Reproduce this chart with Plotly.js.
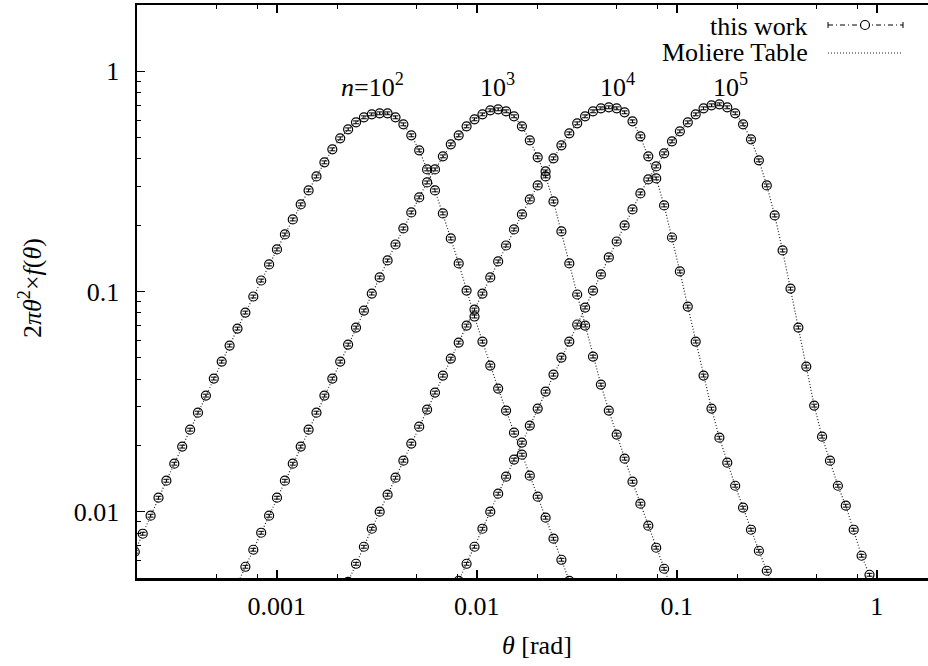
<!DOCTYPE html>
<html>
<head>
<meta charset="utf-8">
<script src="https://cdn.plot.ly/plotly-3.0.1.min.js"></script>
<style>
html,body{margin:0;padding:0;overflow:hidden;background:#fff;}
#chart{width:960px;height:666px;}
</style>
</head>
<body>
<div id="chart"></div>
<script>
// shared angle grid (rad)
const theta = [1.950e-4, 2.136e-4, 2.339e-4, 2.562e-4, 2.805e-4, 3.073e-4, 3.365e-4, 3.686e-4, 4.036e-4, 4.421e-4, 4.842e-4, 5.303e-4, 5.808e-4, 6.361e-4, 6.966e-4, 7.630e-4, 8.356e-4, 9.152e-4,
  1.002e-3, 1.098e-3, 1.202e-3, 1.317e-3, 1.442e-3, 1.579e-3, 1.730e-3, 1.895e-3, 2.075e-3, 2.273e-3, 2.489e-3, 2.726e-3, 2.985e-3, 3.269e-3, 3.581e-3, 3.922e-3, 4.295e-3, 4.704e-3, 5.152e-3, 5.643e-3, 6.180e-3, 6.768e-3, 7.413e-3, 8.119e-3, 8.892e-3, 9.739e-3,
  1.067e-2, 1.168e-2, 1.279e-2, 1.401e-2, 1.535e-2, 1.681e-2, 1.841e-2, 2.016e-2, 2.208e-2, 2.418e-2, 2.649e-2, 2.901e-2, 3.177e-2, 3.480e-2, 3.811e-2, 4.174e-2, 4.571e-2, 5.006e-2, 5.483e-2, 6.005e-2, 6.577e-2, 7.203e-2, 7.889e-2, 8.640e-2, 9.462e-2,
  0.1036, 0.1135, 0.1243, 0.1361, 0.1491, 0.1633, 0.1788, 0.1959, 0.2145, 0.2350, 0.2573, 0.2818, 0.3087, 0.3381, 0.3703, 0.4055, 0.4441, 0.4864, 0.5327, 0.5834, 0.6390, 0.6998, 0.7665, 0.8395, 0.9194, 1.007];

// first grid index of each series
const start1e2 = 0, start1e3 = 13, start1e4 = 27, start1e5 = 41;

const y1e2 = [0.00658, 0.007943, 0.00959, 0.01158, 0.01383, 0.01652, 0.01975, 0.02359, 0.02818, 0.03367, 0.04023, 0.04806, 0.05683, 0.06789, 0.08026, 0.0949, 0.1122, 0.1327, 0.1552, 0.1816, 0.2125, 0.2486, 0.2878, 0.3332, 0.3859, 0.4421, 0.4961, 0.545, 0.5864, 0.618, 0.6376, 0.6444, 0.6444, 0.618, 0.5743, 0.5119, 0.4374, 0.3585, 0.2878, 0.2262, 0.1741, 0.1341, 0.101, 0.07698, 0.05926, 0.04609, 0.03623, 0.02878, 0.02286, 0.01816, 0.01457, 0.0117, 0.009391, 0.00754, 0.00605, 0.004857];

const y1e3 = [0.004707, 0.005623, 0.006719, 0.008027, 0.00959, 0.01158, 0.01383, 0.01652, 0.01975, 0.02359, 0.02818, 0.03367, 0.04023, 0.04806, 0.05743, 0.0686, 0.08196, 0.0979, 0.1158, 0.1384, 0.1635, 0.1934, 0.2286, 0.2675, 0.3129, 0.3585, 0.4109, 0.4659, 0.5119, 0.5624, 0.6052, 0.6376, 0.665, 0.672, 0.658, 0.6245, 0.5624, 0.4858, 0.4067, 0.3332, 0.2565, 0.1874, 0.1341, 0.09691, 0.07006, 0.05064, 0.03778, 0.02878, 0.02239, 0.01742, 0.01369, 0.01088, 0.008637, 0.006862, 0.005507, 0.004421];

const y1e4 = [0.004806, 0.005802, 0.006933, 0.00837, 0.01, 0.01195, 0.01427, 0.01705, 0.02038, 0.02434, 0.02908, 0.03474, 0.04151, 0.04959, 0.05864, 0.07006, 0.08282, 0.0979, 0.1158, 0.137, 0.1618, 0.1914, 0.2238, 0.262, 0.3032, 0.3511, 0.4025, 0.461, 0.5227, 0.5803, 0.6245, 0.658, 0.6791, 0.6862, 0.6791, 0.6512, 0.5926, 0.5066, 0.4109, 0.3263, 0.246, 0.1759, 0.1233, 0.08546, 0.05926, 0.04151, 0.02939, 0.02169, 0.01669, 0.01312, 0.01043, 0.008283, 0.006649, 0.005393, 0.004375];

const y1e5 = [0.004857, 0.005802, 0.006933, 0.00837, 0.01, 0.01208, 0.01442, 0.01724, 0.0206, 0.0246, 0.02939, 0.03511, 0.04195, 0.05011, 0.05926, 0.0708, 0.08457, 0.101, 0.1195, 0.1428, 0.1687, 0.1996, 0.2359, 0.2789, 0.3229, 0.3699, 0.424, 0.4807, 0.5337, 0.5864, 0.6376, 0.6791, 0.7007, 0.7081, 0.6862, 0.6444, 0.5743, 0.4909, 0.3941, 0.3033, 0.2215, 0.1536, 0.1031, 0.0686, 0.04561, 0.03033, 0.02192, 0.01705, 0.01312, 0.01065, 0.008283, 0.006309, 0.005172, 0.004152];

const seriesList = [
  {start: start1e2, y: y1e2},
  {start: start1e3, y: y1e3},
  {start: start1e4, y: y1e4},
  {start: start1e5, y: y1e5}
];

const xTickVals = [0.001, 0.01, 0.1, 1];
const xTickText = ['0.001', '0.01', '0.1', '1'];
const xMinorVals = [0.0005, 0.0008, 0.002, 0.005, 0.008, 0.02, 0.05, 0.08, 0.2, 0.5, 0.8];
const yTickVals = [0.01, 0.1, 1];
const yTickText = ['0.01', '0.1', '1'];
const yMinorVals = [0.006, 0.007, 0.008, 0.009, 0.02, 0.03, 0.04, 0.05, 0.06, 0.07, 0.08, 0.09, 0.2, 0.3, 0.4, 0.5, 0.6, 0.7, 0.8, 0.9];
const curveLabels = ['<i>n</i>=10<sup>2</sup>', '10<sup>3</sup>', '10<sup>4</sup>', '10<sup>5</sup>'];
const legendLabels = ['this work', 'Moliere Table'];

const FONT = 'Liberation Serif, Times New Roman, serif';

const traces = [];
seriesList.forEach(s => {
  const xs = theta.slice(s.start, s.start + s.y.length);
  traces.push({
    x: xs, y: s.y, mode: 'lines', type: 'scatter', hoverinfo: 'skip',
    line: {color: '#222', width: 1.2, dash: '1px,2px'}
  });
});
seriesList.forEach(s => {
  const xs = theta.slice(s.start, s.start + s.y.length);
  traces.push({
    x: xs, y: s.y, mode: 'markers', type: 'scatter',
    marker: {symbol: 'circle-open', size: 9, color: '#000', line: {width: 1.2, color: '#000'}},
    error_y: {type: 'percent', value: 1.5, width: 3, thickness: 1, color: '#000'}
  });
});

// pixel -> paper helpers for the plot area (l=137, w=800, t=5, h=573)
const L = 137, W = 800, T = 5, H = 573;
const px = v => (v - L) / W;
const py = v => (T + H - v) / H;

const labelPos = [[372, 86], [497, 86], [617, 86], [730, 86]];
const annotations = curveLabels.map((t, i) => ({
  text: t, xref: 'paper', yref: 'paper', x: px(labelPos[i][0]), y: py(labelPos[i][1]),
  xanchor: 'center', yanchor: 'middle', showarrow: false,
  font: {family: FONT, size: 26, color: '#000'}
}));
annotations.push({
  text: legendLabels[0], xref: 'paper', yref: 'paper', x: px(810), y: py(27),
  xanchor: 'right', yanchor: 'middle', showarrow: false, font: {family: FONT, size: 26, color: '#000'}
});
annotations.push({
  text: legendLabels[1], xref: 'paper', yref: 'paper', x: px(810), y: py(52),
  xanchor: 'right', yanchor: 'middle', showarrow: false, font: {family: FONT, size: 26, color: '#000'}
});
annotations.push({
  text: '2<i>πθ</i><sup>2</sup>×<i>f</i>(<i>θ</i>)', xref: 'paper', yref: 'paper',
  x: px(31), y: py(288), xanchor: 'center', yanchor: 'middle', textangle: -90, showarrow: false,
  font: {family: FONT, size: 26, color: '#000'}
});
annotations.push({
  text: '<i>θ</i> [rad]', xref: 'paper', yref: 'paper',
  x: 0.5, y: py(645), xanchor: 'center', yanchor: 'middle', showarrow: false,
  font: {family: FONT, size: 26, color: '#000'}
});

const shapes = [
  {type: 'line', xref: 'paper', yref: 'paper', x0: px(828), x1: px(903), y0: py(25), y1: py(25), line: {color: '#000', width: 1, dash: '5px,3px,1px,3px'}},
  {type: 'line', xref: 'paper', yref: 'paper', x0: px(828), x1: px(828), y0: py(22), y1: py(28), line: {color: '#000', width: 1}},
  {type: 'line', xref: 'paper', yref: 'paper', x0: px(903), x1: px(903), y0: py(22), y1: py(28), line: {color: '#000', width: 1}},
  {type: 'circle', xref: 'paper', yref: 'paper', x0: px(860.5), x1: px(869.5), y0: py(20.5), y1: py(29.5), fillcolor: '#fff', line: {color: '#000', width: 1.2}},
  {type: 'line', xref: 'paper', yref: 'paper', x0: px(828), x1: px(903), y0: py(53), y1: py(53), line: {color: '#222', width: 1.2, dash: '1px,2px'}}
];

const axisCommon = {
  type: 'log', showline: true, linewidth: 2.5, linecolor: '#000', mirror: 'ticks',
  ticks: 'inside', ticklen: 8, tickwidth: 1.5, tickcolor: '#000',
  showgrid: false, zeroline: false, tickmode: 'array',
  tickfont: {family: FONT, size: 26, color: '#000'}
};

const layout = {
  width: 960, height: 666,
  margin: {l: L, r: 960 - L - W, t: T, b: 666 - T - H},
  paper_bgcolor: '#fff', plot_bgcolor: '#fff',
  showlegend: false,
  xaxis: Object.assign({}, axisCommon, {
    range: [Math.log10(0.0002), Math.log10(2)],
    tickvals: xTickVals, ticktext: xTickText, ticklabelstandoff: 3,
    minor: {ticks: 'inside', ticklen: 4, tickwidth: 1, tickcolor: '#000', tickmode: 'array', tickvals: xMinorVals, showgrid: false}
  }),
  yaxis: Object.assign({}, axisCommon, {
    range: [Math.log10(0.005), Math.log10(2)],
    tickvals: yTickVals, ticktext: yTickText, ticklabelstandoff: 10,
    minor: {ticks: 'inside', ticklen: 4, tickwidth: 1, tickcolor: '#000', tickmode: 'array', tickvals: yMinorVals, showgrid: false}
  }),
  annotations: annotations,
  shapes: shapes
};

Plotly.newPlot('chart', traces, layout, {staticPlot: true, displayModeBar: false});
</script>
</body>
</html>
